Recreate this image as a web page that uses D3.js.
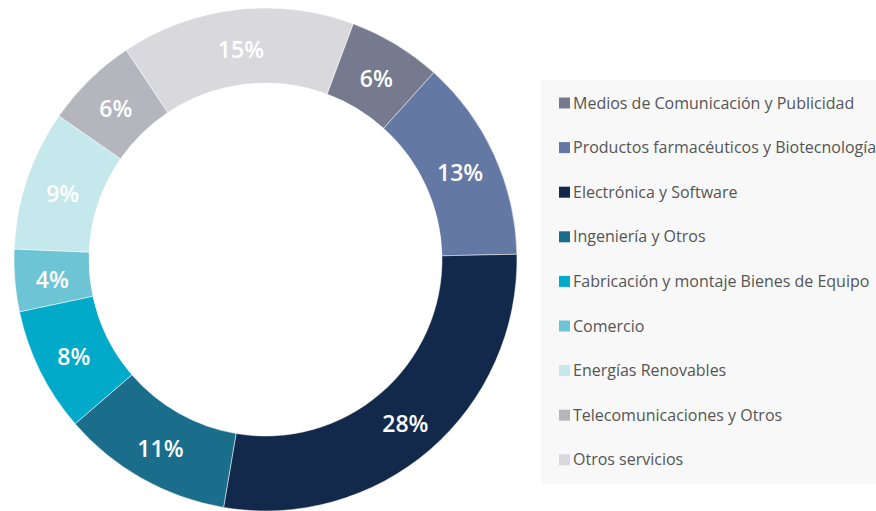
<!DOCTYPE html>
<html><head><meta charset="utf-8">
<script src="https://cdn.jsdelivr.net/npm/d3@7"></script>
<style>
html,body{margin:0;padding:0;background:#fff;}
svg{display:block;font-family:"Open Sans",sans-serif;}
</style></head>
<body>
<svg id="chart" width="876" height="511"></svg>
<script>
const categories = [
  "Medios de Comunicación y Publicidad",
  "Productos farmacéuticos y Biotecnología",
  "Electrónica y Software",
  "Ingeniería y Otros",
  "Fabricación y montaje Bienes de Equipo",
  "Comercio",
  "Energías Renovables",
  "Telecomunicaciones y Otros",
  "Otros servicios"
];
const values = [6, 13, 28, 11, 8, 4, 9, 6, 15];
const colors = ["#767a8e", "#6378a2", "#12294b", "#1a6e8b", "#00aac8", "#6cc4d5", "#c5e8ed", "#b5b5be", "#d8d8dd"];

const svg = d3.select("#chart");
const cx = 265.5, cy = 259.5, rOuter = 251.5, rInner = 176.5;
const startAngle = 20.4 * Math.PI / 180;

const pie = d3.pie().sort(null).value(d => d)
  .startAngle(startAngle).endAngle(startAngle + 2 * Math.PI);
const arc = d3.arc().innerRadius(rInner).outerRadius(rOuter);
const color = d3.scaleOrdinal().domain(categories).range(colors);

const g = svg.append("g").attr("transform", `translate(${cx},${cy})`);
const arcs = pie(values);
g.selectAll("path").data(arcs).enter().append("path")
  .attr("d", arc)
  .attr("fill", (d, i) => color(categories[i]))
  .attr("stroke", "#ffffff")
  .attr("stroke-width", 0.5);

g.selectAll("text.lbl").data(arcs).enter().append("text")
  .attr("class", "lbl")
  .attr("transform", d => `translate(${arc.centroid(d)})`)
  .attr("text-anchor", "middle")
  .attr("dy", "0.46em")
  .attr("fill", "#ffffff")
  .attr("font-size", 23)
  .attr("font-weight", 600)
  .text(d => d.data + "%");

// Legend
const lx = 541, ly = 80, lw = 335, lh = 404;
const leg = svg.append("g");
leg.append("rect").attr("x", lx).attr("y", ly).attr("width", lw).attr("height", lh).attr("fill", "#f8f8f8");
const ly0 = 103, lstep = 44.6;
const items = leg.selectAll("g.item").data(categories).enter().append("g")
  .attr("class", "item")
  .attr("transform", (d, i) => `translate(0,${ly0 + i * lstep})`);
items.append("rect").attr("x", 559).attr("y", -5.5).attr("width", 11).attr("height", 11)
  .attr("fill", d => color(d));
items.append("text").attr("x", 573).attr("dy", "0.35em")
  .attr("font-size", 16).attr("fill", "#555555")
  .text(d => d);
</script>
</body></html>
